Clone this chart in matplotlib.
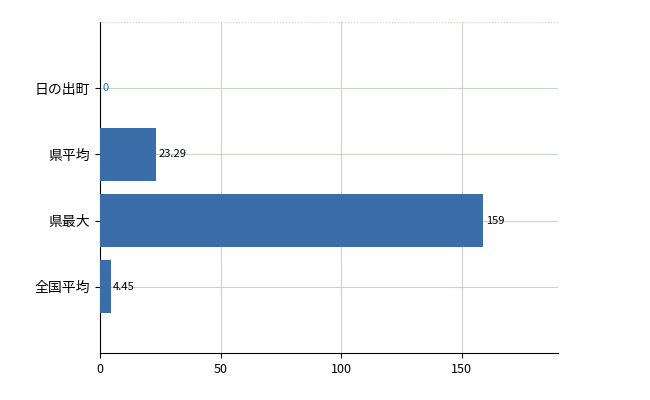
import matplotlib
matplotlib.use("Agg")
import matplotlib.pyplot as plt

plt.rcParams['font.family'] = ['Noto Sans CJK JP', 'DejaVu Sans']

categories = ["日の出町", "県平均", "県最大", "全国平均"]
values = [0, 23.29, 159, 4.45]
value_labels = ["0", "23.29", "159", "4.45"]

fig = plt.figure(figsize=(6.5, 4.0), dpi=100)
ax = fig.add_axes([100 / 650, 47 / 400, 458 / 650, 331 / 400])

pos = list(range(len(categories)))
ax.barh(pos, values, height=0.8, color="#3b6ea8", zorder=3)
for p, v, t in zip(pos, values, value_labels):
    ax.text(v + 1, p, t, va="center", ha="left", fontsize=8,
            color="#1f77b4" if v == 0 else "black", zorder=4)

ax.set_ylim(4, -1)
ax.set_xlim(0, 190)
ax.set_yticks(pos)
ax.set_yticklabels(categories, fontsize=10)
ax.set_xticks([0, 50, 100, 150])
ax.tick_params(axis="x", labelsize=9)
ax.grid(True, color="#c8d2c8", linewidth=0.8, zorder=0)
ax.axhline(-1, color="#c8d2c8", linewidth=0.8, linestyle=":", zorder=0)
for s in ["top", "right"]:
    ax.spines[s].set_visible(False)

fig.savefig("out.png", dpi=100)
